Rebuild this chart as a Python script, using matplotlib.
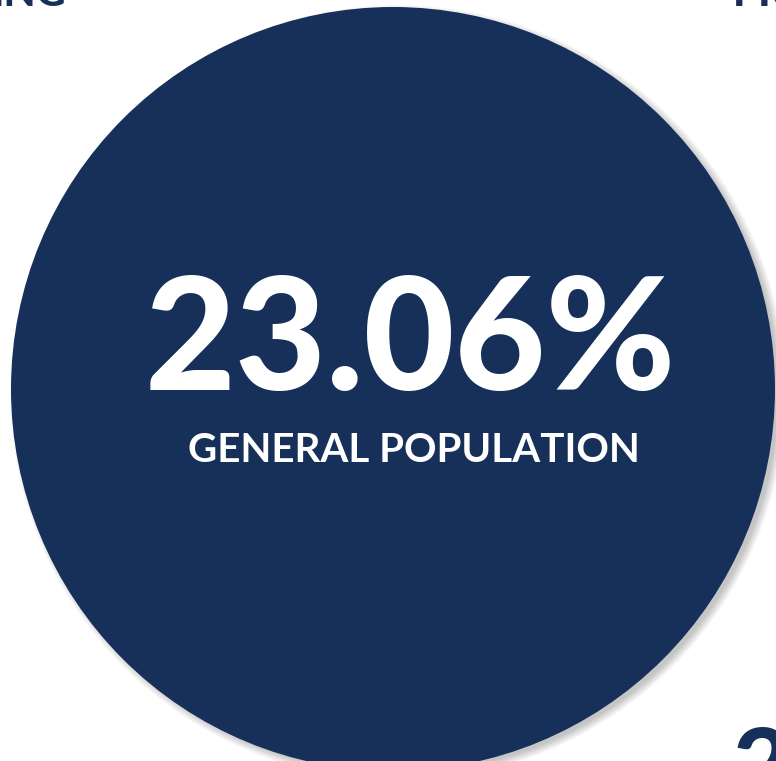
import matplotlib
matplotlib.use("Agg")
import matplotlib.pyplot as plt
from matplotlib.patches import Circle

# Figure content
stat_value = "23.06%"
stat_label = "GENERAL POPULATION"
edge_texts = ["ING", "PR", "2"]

NAVY = "#17305A"
W, H = 776, 761

fig = plt.figure(figsize=(W / 100, H / 100), dpi=100)
ax = fig.add_axes([0, 0, 1, 1])
ax.set_xlim(0, W)
ax.set_ylim(H, 0)
ax.set_aspect("equal")
ax.axis("off")

cx, cy, r = 393, 389, 382

# soft drop shadow toward the lower right
for i in range(10):
    ax.add_patch(Circle((cx + 5, cy + 4), r + 6 - i * 0.9,
                        facecolor="black", alpha=0.025, edgecolor="none", zorder=1))

ax.add_patch(Circle((cx, cy), r, facecolor=NAVY, edgecolor="none", zorder=2))

ax.text(410, 390, stat_value, color="white", fontsize=113, fontweight="black",
        family="Lato", ha="center", va="baseline", zorder=3)
ax.text(414, 462, stat_label, color="white", fontsize=29, fontweight="bold",
        family="Lato", ha="center", va="baseline", zorder=3)

# neighbouring panel text cut off by the frame
ax.text(-8, 6, edge_texts[0], color=NAVY, fontsize=30, fontweight="black",
        family="Lato", ha="left", va="baseline", zorder=3)
ax.text(733, 6, edge_texts[1], color=NAVY, fontsize=30, fontweight="black",
        family="Lato", ha="left", va="baseline", zorder=3)
ax.text(733, 800, edge_texts[2], color=NAVY, fontsize=72, fontweight="black",
        family="Lato", ha="left", va="baseline", zorder=3)

fig.savefig("out.png", dpi=100, facecolor="white")
